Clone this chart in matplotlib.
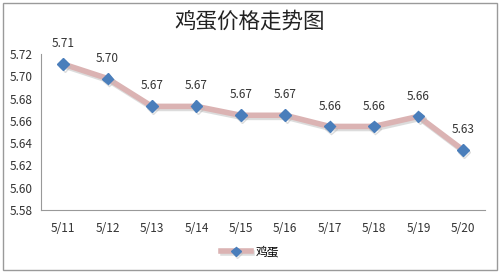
import numpy as np
import matplotlib
matplotlib.use("Agg")
import matplotlib.pyplot as plt
import matplotlib.patheffects as pe
from matplotlib.patches import Rectangle

plt.rcParams['font.family'] = ['Noto Sans CJK SC', 'DejaVu Sans']

# data
dates = ['5/11', '5/12', '5/13', '5/14', '5/15', '5/16', '5/17', '5/18', '5/19', '5/20']
prices = [5.711, 5.698, 5.673, 5.673, 5.665, 5.665, 5.655, 5.655, 5.664, 5.634]
price_labels = ['5.71', '5.70', '5.67', '5.67', '5.67', '5.67', '5.66', '5.66', '5.66', '5.63']
yticks = [5.58, 5.60, 5.62, 5.64, 5.66, 5.68, 5.70, 5.72]

fig = plt.figure(figsize=(5.0, 2.73), dpi=100)
ax = fig.add_axes([41/500, 1-210/273, 444/500, 156/273])

x = np.arange(len(dates))
ax.plot(x, prices, color='#dbb3b3', lw=4, solid_joinstyle='miter',
        marker='D', markersize=6, markerfacecolor='#4a7ebb', markeredgecolor='#4a7ebb',
        label='鸡蛋',
        path_effects=[pe.SimpleLineShadow(offset=(1, -1.5), shadow_color='#bbbbbb', alpha=0.5), pe.Normal()])

for xi, yi, lab in zip(x, prices, price_labels):
    ax.annotate(lab, (xi, yi), xytext=(0, 10), textcoords='offset points',
                ha='center', va='bottom', fontsize=8.5, color='#333333')

ax.set_xlim(-0.5, len(dates) - 0.5)
ax.set_ylim(5.58, 5.72)
ax.set_yticks(yticks)
ax.set_yticklabels(['%.2f' % t for t in yticks])
ax.set_xticks(x)
ax.set_xticklabels(dates)
ax.tick_params(length=0, labelsize=8.5, labelcolor='#333333')
ax.tick_params(axis='x', pad=9)
ax.tick_params(axis='y', pad=6)
for s in ['top', 'right']:
    ax.spines[s].set_visible(False)
for s in ['left', 'bottom']:
    ax.spines[s].set_color('#999999')
    ax.spines[s].set_linewidth(0.8)

fig.text(0.5, 1-22/273, '鸡蛋价格走势图', ha='center', va='center',
         fontsize=15.5, fontweight='medium', color='#222222')

leg = fig.legend(loc='center', bbox_to_anchor=(0.5, 1-252/273), frameon=False,
                 fontsize=8.5, handlelength=2.5, handletextpad=0.4, markerscale=0.8)

fig.patches.append(Rectangle((3/500, 3/273), 494/500, 267/273, transform=fig.transFigure,
                             fill=False, edgecolor='#9a9a9a', lw=1))

fig.savefig('out.png', dpi=100)
